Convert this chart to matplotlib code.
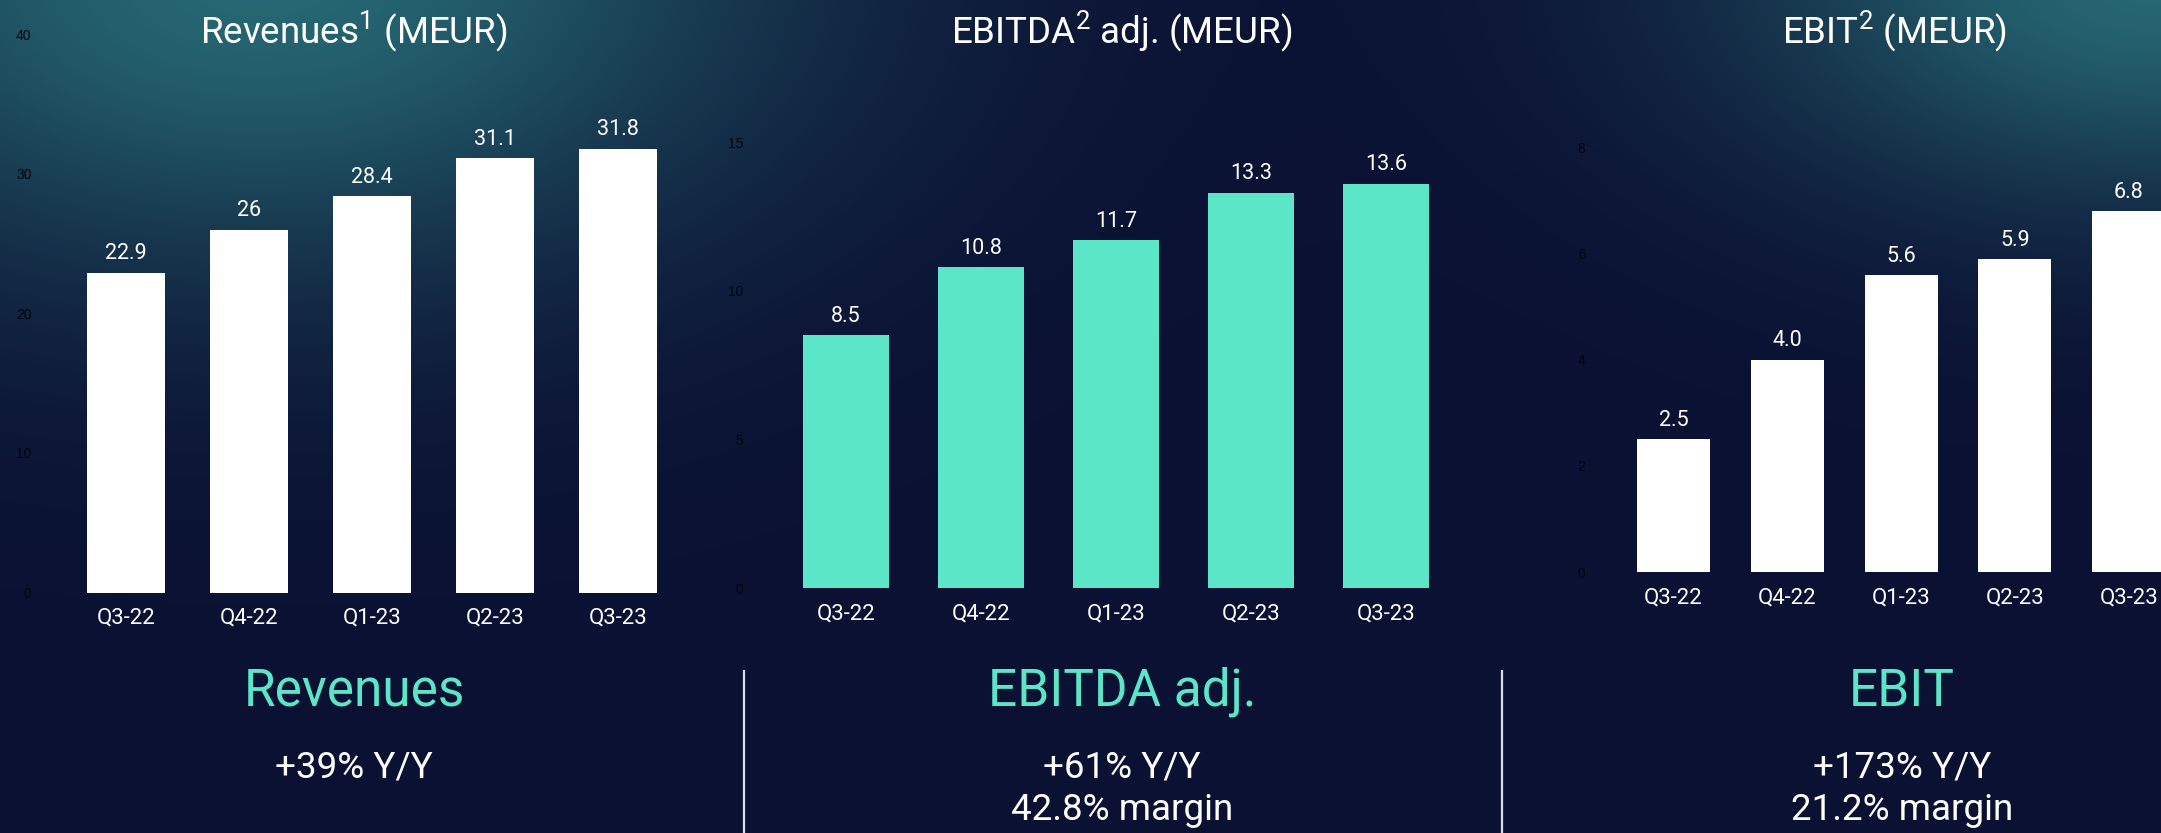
import numpy as np
import matplotlib
matplotlib.use('Agg')
import matplotlib.pyplot as plt

plt.rcParams['font.family'] = ['Roboto', 'DejaVu Sans']
plt.rcParams['mathtext.fontset'] = 'custom'
plt.rcParams['mathtext.rm'] = 'Roboto'

quarters = ['Q3-22', 'Q4-22', 'Q1-23', 'Q2-23', 'Q3-23']
revenues = [22.9, 26, 28.4, 31.1, 31.8]
ebitda_adj = [8.5, 10.8, 11.7, 13.3, 13.6]
ebit = [2.5, 4.0, 5.6, 5.9, 6.8]

revenue_labels = ['22.9', '26', '28.4', '31.1', '31.8']
ebitda_labels = ['8.5', '10.8', '11.7', '13.3', '13.6']
ebit_labels = ['2.5', '4.0', '5.6', '5.9', '6.8']

titles = [r'Revenues$^{\mathrm{1}}$ (MEUR)', r'EBITDA$^{\mathrm{2}}$ adj. (MEUR)', r'EBIT$^{\mathrm{2}}$ (MEUR)']
headings = ['Revenues', 'EBITDA adj.', 'EBIT']
growth = ['+39% Y/Y', '+61% Y/Y', '+173% Y/Y']
margins = ['', '42.8% margin', '21.2% margin']

W, H = 2161, 833
NAVY = '#0b1133'
TEAL = '#5ce6c8'

fig = plt.figure(figsize=(W / 100, H / 100), dpi=100)
fig.patch.set_facecolor(NAVY)

# background with teal glow at the top
bg = fig.add_axes([0, 0, 1, 1])
yy, xx = np.mgrid[0:H:2, 0:W:2]
base = np.array([11, 17, 51]) / 255
glow = np.array([38, 104, 115]) / 255
g1 = np.exp(-(((xx - 260) / 520) ** 2 + ((yy + 30) / 300) ** 2))
g2 = np.exp(-(((xx - 2160) / 420) ** 2 + ((yy + 30) / 230) ** 2))
g = np.clip(g1 + g2, 0, 1)[..., None]
img = base * (1 - g) + glow * g
bg.imshow(img, extent=[0, W, H, 0], aspect='auto')
bg.set_xlim(0, W)
bg.set_ylim(H, 0)
bg.axis('off')


def px_axes(center0, spacing, y0, scale, top):
    left = center0 - 0.7 * spacing
    width = 5.4 * spacing
    return [left / W, 1 - y0 / H, width / W, top * scale / H]


panels = [
    (revenues, revenue_labels, 'white', px_axes(126, 123, 592.5, 13.96, 40), 40, [0, 10, 20, 30, 40]),
    (ebitda_adj, ebitda_labels, TEAL, px_axes(846, 135, 588, 29.73, 16), 16, [0, 5, 10, 15]),
    (ebit, ebit_labels, 'white', px_axes(1673.5, 113.8, 572, 53.06, 8.5), 8.5, [0, 2, 4, 6, 8]),
]

x = np.arange(len(quarters))
for vals, labels, color, pos, ymax, ticks in panels:
    ax = fig.add_axes(pos)
    ax.patch.set_alpha(0)
    bars = ax.bar(x, vals, width=0.64, color=color)
    ax.bar_label(bars, labels=labels, padding=6, color='white', fontsize=15.5)
    ax.set_xlim(-0.7, 4.7)
    ax.set_ylim(0, ymax)
    ax.set_xticks(x)
    ax.set_xticklabels(quarters, color='white', fontsize=16)
    ax.set_yticks(ticks)
    ax.set_yticklabels([str(t) for t in ticks], fontsize=10, color='#04050b', family='Liberation Sans')
    ax.tick_params(axis='x', length=0, pad=11)
    ax.tick_params(axis='y', length=0, pad=6)
    for s in ax.spines.values():
        s.set_visible(False)

title_x = [354, 1122, 1894]
for t, tx in zip(titles, title_x):
    fig.text(tx / W, 1 - 32 / H, t, color='white', fontsize=26.5, ha='center', va='center')

for i, tx in enumerate([354, 1122, 1902]):
    fig.text(tx / W, 1 - 692 / H, headings[i], color=TEAL, fontsize=37, ha='center', va='center')
    fig.text(tx / W, 1 - 767 / H, growth[i], color='white', fontsize=26.5, ha='center', va='center')
    if margins[i]:
        fig.text(tx / W, 1 - 810 / H, margins[i], color='white', fontsize=26.5, ha='center', va='center')

for lx in [744, 1502]:
    bg.plot([lx, lx], [671, H], color='#d8dce4', lw=1.6)

fig.savefig('out.png', dpi=100, facecolor=NAVY)
